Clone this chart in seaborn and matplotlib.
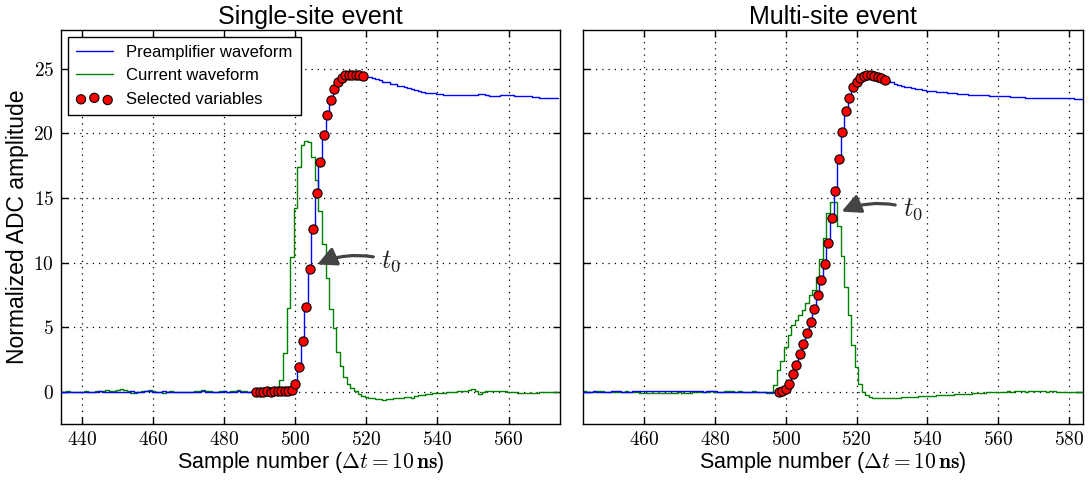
import numpy as np
import pandas as pd
import matplotlib
matplotlib.use("Agg")
import matplotlib.pyplot as plt
from matplotlib.ticker import FuncFormatter, MultipleLocator
import seaborn as sns

# ---------------- data ----------------
titles = ["Single-site event", "Multi-site event"]
legend_labels = ["Preamplifier waveform", "Current waveform", "Selected variables"]
ylabel_text = "Normalized ADC amplitude"
xlabel_text = r"Sample number ($\Delta t = 10\,\mathbf{ns}$)"
yticks_vals = [0, 5, 10, 15, 20, 25]

# Single-site event (first sample = 434)
left_start = 434
left_preamp = [
    0.0, 0.01, 0.0, -0.01, 0.0, 0.0, 0.01, 0.0, 0.0, 0.01,
    0.0, 0.02, 0.0, -0.04, -0.05, -0.03, -0.05, -0.04, 0.0, 0.01,
    0.02, 0.0, -0.02, 0.0, 0.02, 0.03, 0.0, -0.02, 0.0, 0.02,
    0.0, -0.03, -0.04, -0.03, 0.0, 0.01, -0.02, -0.04, -0.02, 0.0,
    0.02, 0.0, -0.02, 0.0, 0.01, 0.0, 0.02, 0.01, 0.0, 0.0,
    0.02, 0.0, 0.01, 0.0, 0.0, 0.0, 0.0, 0.01, 0.02, 0.0,
    0.02, 0.03, 0.02, 0.05, 0.05, 0.15, 0.62, 1.92, 3.94, 6.55,
    9.53, 12.6, 15.4, 17.8, 19.9, 21.4, 22.6, 23.4, 24.0, 24.3,
    24.5, 24.55, 24.55, 24.5, 24.5, 24.45, 24.4, 24.35, 24.3, 24.2,
    24.1, 24.0, 23.95, 23.85, 23.8, 23.7, 23.65, 23.55, 23.5, 23.4,
    23.35, 23.27, 23.2, 23.16, 23.12, 23.1, 23.08, 23.05, 23.0, 22.98,
    22.96, 22.95, 22.95, 22.94, 22.95, 22.97, 22.94, 23.0, 23.06, 23.05,
    22.93, 22.9, 22.88, 22.92, 22.93, 22.94, 22.93, 22.93, 22.92, 22.92,
    22.9, 22.88, 22.86, 22.8, 22.78, 22.76, 22.75, 22.74, 22.73, 22.72,
    22.72,
]
left_current = [
    0.0, 0.0, 0.02, 0.0, -0.02, 0.0, 0.0, 0.02, 0.0, 0.0,
    0.02, 0.05, 0.05, 0.1, 0.08, 0.05, 0.12, 0.18, 0.1, 0.05,
    -0.1, -0.12, 0.0, 0.02, 0.05, 0.12, 0.05, 0.0, -0.05, -0.08,
    0.0, 0.02, 0.0, 0.0, -0.05, -0.05, -0.02, 0.0, 0.02, 0.05,
    0.1, 0.08, 0.02, 0.0, 0.0, 0.05, 0.02, 0.0, 0.02, 0.05,
    0.12, 0.08, 0.02, 0.0, 0.02, 0.0, 0.0, 0.02, 0.0, 0.0,
    0.02, 0.1, 0.9, 3.0, 6.5, 10.4, 14.2, 17.4, 19.1, 19.4,
    19.3, 18.2, 16.4, 14.0, 11.4, 8.8, 6.4, 4.9, 3.1, 2.0,
    1.1, 0.6, 0.3, 0.05, -0.15, -0.3, -0.4, -0.48, -0.52, -0.56,
    -0.6, -0.62, -0.6, -0.56, -0.52, -0.5, -0.46, -0.42, -0.44, -0.5,
    -0.36, -0.28, -0.24, -0.2, -0.17, -0.12, -0.1, -0.08, -0.07, -0.05,
    -0.05, -0.03, 0.02, 0.04, 0.06, 0.1, 0.22, 0.02, -0.18, -0.05,
    0.02, 0.05, 0.04, 0.06, 0.05, 0.03, 0.0, -0.03, -0.05, -0.08,
    -0.1, -0.12, -0.13, -0.1, -0.08, -0.05, -0.03, -0.02, 0.0, 0.0,
    0.0,
]
left_selected = (489, 519)
left_t0 = 504

# Multi-site event (first sample = 442)
right_start = 442
right_preamp = [
    0.0, 0.01, 0.0, 0.0, 0.02, 0.01, 0.0, 0.0, 0.01, 0.02,
    0.03, 0.02, 0.0, 0.0, 0.01, 0.02, 0.02, 0.03, 0.04, 0.05,
    0.05, 0.04, 0.05, 0.06, 0.05, 0.04, 0.03, 0.02, 0.02, 0.03,
    0.04, 0.05, 0.04, 0.03, 0.02, 0.01, 0.02, 0.03, 0.02, 0.0,
    0.0, 0.01, 0.0, -0.01, 0.0, 0.0, 0.01, 0.0, 0.0, 0.0,
    0.01, 0.0, 0.0, -0.02, -0.05, -0.03,
    -0.02, 0.02, 0.23, 0.62, 1.36, 2.04, 2.9, 3.73, 4.58, 5.41,
    6.39, 7.45, 8.64, 9.88, 11.55, 13.43, 15.55, 18.0, 20.1, 21.7,
    22.75, 23.58, 24.0, 24.25, 24.43, 24.51, 24.51, 24.43, 24.36, 24.25,
    24.15, 24.05, 23.95, 23.85, 23.75, 23.68, 23.6, 23.55, 23.5, 23.45,
    23.4, 23.35, 23.3, 23.28, 23.25, 23.22, 23.2, 23.18, 23.15, 23.12,
    23.1, 23.08, 23.05, 23.03, 23.0, 22.98, 22.97, 22.96, 22.95, 22.93,
    22.92, 22.9, 22.9, 22.88, 22.88, 22.86, 22.82, 22.8, 22.78, 22.8,
    22.75, 22.72, 22.7, 22.74, 22.76, 22.74, 22.72, 22.73, 22.74, 22.72,
    22.73, 22.72, 22.7, 22.7, 22.68, 22.66, 22.65, 22.65,
]
right_current = [
    0.0, 0.02, 0.0, -0.02, 0.0, 0.03, 0.02, 0.0, -0.03, -0.05,
    -0.05, -0.03, 0.0, 0.02, 0.0, -0.02, -0.05, -0.08, -0.1, -0.08,
    -0.1, -0.12, -0.1, -0.08, -0.1, -0.12, -0.1, -0.08, -0.06, -0.08,
    -0.1, -0.08, -0.05, -0.06, -0.04, -0.02, 0.0, 0.02, 0.0, -0.02,
    0.0, 0.02, 0.05, 0.03, 0.0, 0.02, 0.0, -0.02, 0.0, 0.02,
    0.0, -0.03, -0.05, -0.08, -0.08,
    0.49, 1.65, 2.35, 3.47, 4.37, 5.15, 5.54, 5.92, 6.31, 6.83,
    7.48, 7.87, 8.9, 10.3, 11.9, 13.8, 14.7, 14.7, 12.8, 10.5,
    8.1, 5.9, 3.6, 1.9, 0.6, 0.0, -0.25, -0.4, -0.45, -0.45,
    -0.47, -0.48, -0.48, -0.47, -0.46, -0.45, -0.44, -0.43, -0.42, -0.4,
    -0.38, -0.36, -0.35, -0.33, -0.32, -0.3, -0.28, -0.27, -0.25, -0.24,
    -0.22, -0.2, -0.18, -0.17, -0.16, -0.14, -0.12, -0.1, -0.1, -0.08,
    -0.06, -0.05, -0.05, -0.03, -0.02, 0.0, 0.02, 0.0, 0.03, 0.05,
    0.02, 0.0, 0.03, 0.05, 0.06, 0.04, 0.02, 0.0, 0.02, 0.03,
    0.01, 0.0, 0.0, 0.0, 0.0, 0.0, 0.0, 0.0, 0.0,
]
right_selected = (498, 528)
right_t0 = 513

# ---------------- style ----------------
sns.set_theme(style="ticks")
plt.rcParams.update({
    "font.family": ["Liberation Sans", "DejaVu Sans"],
    "mathtext.fontset": "cm",
    "text.color": "black",
    "axes.labelcolor": "black",
    "axes.titlecolor": "black",
    "axes.edgecolor": "black",
    "axes.linewidth": 1.0,
    "xtick.direction": "in",
    "ytick.direction": "in",
    "xtick.top": True,
    "ytick.right": True,
    "xtick.major.size": 5,
    "ytick.major.size": 5,
    "xtick.color": "black",
    "ytick.color": "black",
    "xtick.labelcolor": "black",
    "ytick.labelcolor": "black",
})

BLUE = "#0000ff"
GREEN = "#008000"
RED = "#ff0000"

fig = plt.figure(figsize=(10.9, 4.83), dpi=100)
W, H = 1090.0, 483.0
ax1 = fig.add_axes([61 / W, 59 / H, 499 / W, 394 / H])
ax2 = fig.add_axes([583 / W, 59 / H, 500 / W, 394 / H])

panels = [
    (ax1, left_start, left_preamp, left_current, left_selected, left_t0, (434, 574.5),
     dict(xy=(505.8, 9.8), xytext=(524.0, 10.1))),
    (ax2, right_start, right_preamp, right_current, right_selected, right_t0, (442.7, 584),
     dict(xy=(515.4, 13.9), xytext=(533.0, 14.1))),
]

tick_fmt = FuncFormatter(lambda v, p: r"$%d$" % int(round(v)))

for i, (ax, start, pre, cur, sel, t0, xlim, ann) in enumerate(panels):
    pre_df = pd.DataFrame({"sample": start + np.arange(len(pre)), "amp": pre})
    cur_df = pd.DataFrame({"sample": start + np.arange(len(cur)), "amp": cur})
    sel_df = pre_df[(pre_df["sample"] >= sel[0]) & (pre_df["sample"] <= sel[1])]

    sns.lineplot(data=cur_df, x="sample", y="amp", ax=ax, color=GREEN, lw=1.0,
                 drawstyle="steps-mid", estimator=None, label=legend_labels[1], zorder=2)
    sns.lineplot(data=pre_df, x="sample", y="amp", ax=ax, color=BLUE, lw=1.0,
                 drawstyle="steps-mid", estimator=None, label=legend_labels[0], zorder=3)
    sns.scatterplot(data=sel_df, x="sample", y="amp", ax=ax, color=RED, edgecolor="black",
                    linewidth=0.8, s=44, label=legend_labels[2], zorder=5)

    ax.set_xlim(*xlim)
    ax.set_ylim(-2.5, 28)
    ax.xaxis.set_major_locator(MultipleLocator(20))
    ax.set_yticks(yticks_vals)
    ax.xaxis.set_major_formatter(tick_fmt)
    ax.yaxis.set_major_formatter(tick_fmt)
    ax.tick_params(labelsize=14, width=1, length=5, pad=5)
    ax.grid(True, linestyle=(0, (1, 4)), color="black", linewidth=0.9)
    for sp in ax.spines.values():
        sp.set_visible(True)
        sp.set_color("black")

    ax.set_title(titles[i], fontsize=18, pad=4)
    ax.set_xlabel(xlabel_text, fontsize=15.5, labelpad=1)

    ax.annotate(r"$t_0$", xy=ann["xy"], xytext=ann["xytext"], fontsize=19,
                va="center", ha="left", color="#222222",
                arrowprops=dict(arrowstyle="-|>,head_length=0.6,head_width=0.3",
                                color="#444444", lw=2.3,
                                connectionstyle="arc3,rad=0.2",
                                shrinkA=3, shrinkB=1))

    leg = ax.get_legend()
    if leg is not None:
        leg.remove()

ax1.set_ylabel(ylabel_text, fontsize=16.5, labelpad=3)
ax2.set_ylabel("")
ax2.tick_params(labelleft=False)

handles, labels = ax1.get_legend_handles_labels()
order = [labels.index(l) for l in legend_labels]
leg = ax1.legend([handles[k] for k in order], [labels[k] for k in order],
                 loc="upper left", frameon=True, fancybox=False, framealpha=1,
                 edgecolor="black", fontsize=12, scatterpoints=3,
                 borderaxespad=0.4, handlelength=2.2, labelspacing=0.5,
                 borderpad=0.5)
leg.get_frame().set_linewidth(1.0)

fig.savefig("out.png", dpi=100)
